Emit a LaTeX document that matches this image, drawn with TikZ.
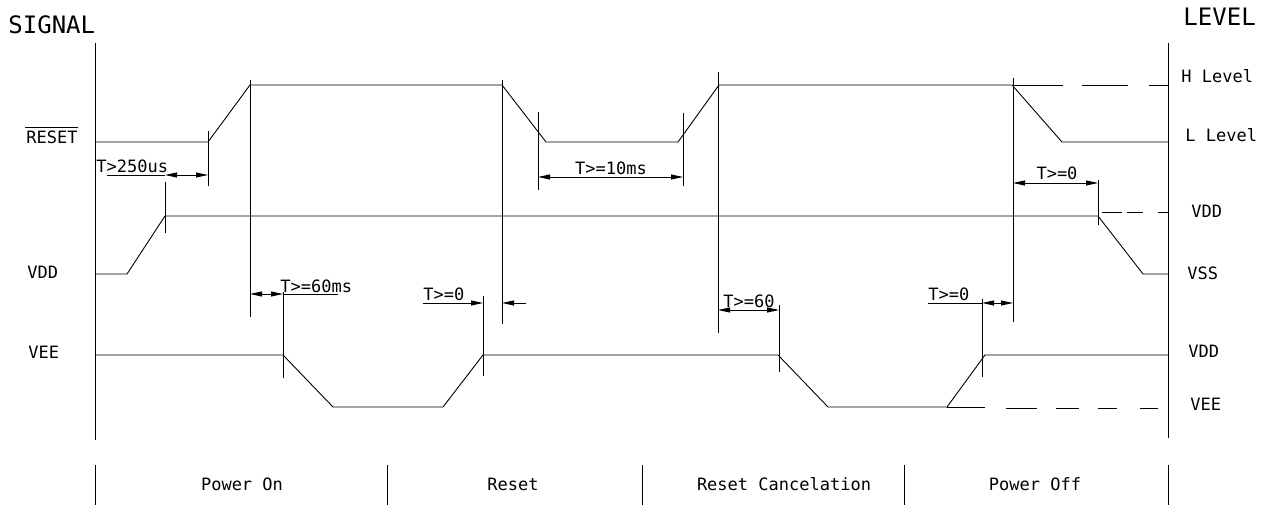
\documentclass[tikz,border=0pt]{standalone}
\usepackage{fontspec}
\newfontfamily\cadfont{DejaVu Sans Mono}
\usetikzlibrary{arrows.meta}
\begin{document}
\begin{tikzpicture}[x=1pt,y=-1pt,line width=0.9pt,
  lbl/.style={font=\cadfont\fontsize{17}{20}\selectfont,inner sep=0pt},
  big/.style={font=\cadfont\fontsize{24}{28}\selectfont,inner sep=0pt},
  dimboth/.style={{Triangle[length=12pt,width=5pt]}-{Triangle[length=12pt,width=5pt]}},
  dimend/.style={-{Triangle[length=12pt,width=5pt]}},
  wave/.style={line join=miter}]
\useasboundingbox (0,0) rectangle (1276,505);

% titles
\node[big,anchor=base west] (signal) at (8,34) {SIGNAL};
\node[big,anchor=base west] (level) at (1183,26) {LEVEL};

% axes
\draw (95,43) -- (95,440);
\draw (1168,43) -- (1168,438);

% left labels
\node[lbl,anchor=base west] (rst) at (26,144) {RESET};
\draw (25,127) -- (78,127);
\node[lbl,anchor=base west] (vddl) at (27,278) {VDD};
\node[lbl,anchor=base west] (veel) at (28,358) {VEE};

% right labels
\node[lbl,anchor=base west] (hlev) at (1181,83) {H Level};
\node[lbl,anchor=base west] (llev) at (1185,142) {L Level};
\node[lbl,anchor=base west] (vddr1) at (1191,218) {VDD};
\node[lbl,anchor=base west] (vssr) at (1187,279) {VSS};
\node[lbl,anchor=base west] (vddr2) at (1188,357) {VDD};
\node[lbl,anchor=base west] (veer) at (1190,410) {VEE};

% RESET waveform
\draw[wave] (96,142) -- (208,142) -- (250,85) -- (502,85) -- (546,142) -- (678,142)
  -- (719,85) -- (1012,85) -- (1062,142) -- (1168,142);
\draw (1012,85) -- (1063,85);
\draw (1082,85) -- (1128,85);
\draw (1149,85) -- (1168,85);

% VDD waveform
\draw[wave] (96,274) -- (127,274) -- (165,216) -- (1098,216) -- (1143,274) -- (1168,274);
\draw (1102,212) -- (1122,212);
\draw (1127,212) -- (1143,212);
\draw (1158,212) -- (1168,212);

% VEE waveform
\draw[wave] (96,355) -- (283,355) -- (333,407) -- (443,407) -- (483,355) -- (778,355)
  -- (828,407) -- (947,407) -- (985,355) -- (1168,355);
\draw (947,407) -- (985,407);
\draw (1006,408) -- (1037,408);
\draw (1056,408) -- (1079,408);
\draw (1098,408) -- (1117,408);
\draw (1140,408) -- (1158,408);

% marker verticals
\draw (165,182) -- (165,233);
\draw (208,131) -- (208,186);
\draw (250,80) -- (250,317);
\draw (283,292) -- (283,378);
\draw (483,296) -- (483,376);
\draw (502,80) -- (502,324);
\draw (538,112) -- (538,190);
\draw (683,113) -- (683,186);
\draw (718,72) -- (718,333);
\draw (779,305) -- (779,372);
\draw (982,299) -- (982,377);
\draw (1013,78) -- (1013,322);
\draw (1098,180) -- (1098,225);

% dimension T>250us
\node[lbl,anchor=base west] (d1) at (96,173) {T>250us};
\draw (107,175) -- (165,175);
\draw[dimboth] (165,175) -- (208,175);

% dimension T>=10ms
\node[lbl,anchor=base] (d2) at (611,175) {T>=10ms};
\draw[dimboth] (538,177) -- (683,177);

% dimension T>=0 top right
\node[lbl,anchor=base] (d3) at (1057,180) {T>=0};
\draw[dimboth] (1013,183) -- (1098,183);

% dimension T>=60ms
\node[lbl,anchor=base west] (d4) at (280,292) {T>=60ms};
\draw[dimboth] (250,294) -- (283,294);
\draw (283,294) -- (338,294);

% dimension T>=0 (reset)
\node[lbl,anchor=base west] (d5) at (423,300) {T>=0};
\draw[dimend] (423,303) -- (483,303);
\draw[dimend] (526,303) -- (502,303);

% dimension T>=60
\node[lbl,anchor=base west] (d6) at (723,307) {T>=60};
\draw[dimboth] (718,310) -- (779,310);

% dimension T>=0 (power off)
\node[lbl,anchor=base west] (d7) at (928,300) {T>=0};
\draw (928,303) -- (982,303);
\draw[dimboth] (982,303) -- (1013,303);

% bottom phases
\foreach \x in {95,387,642,904,1168} \draw (\x,465) -- (\x,505);
\node[lbl,anchor=base] (p1) at (242,490) {Power On};
\node[lbl,anchor=base] (p2) at (513,490) {Reset};
\node[lbl,anchor=base] (p3) at (784,490) {Reset Cancelation};
\node[lbl,anchor=base] (p4) at (1035,490) {Power Off};
\end{tikzpicture}
\end{document}
